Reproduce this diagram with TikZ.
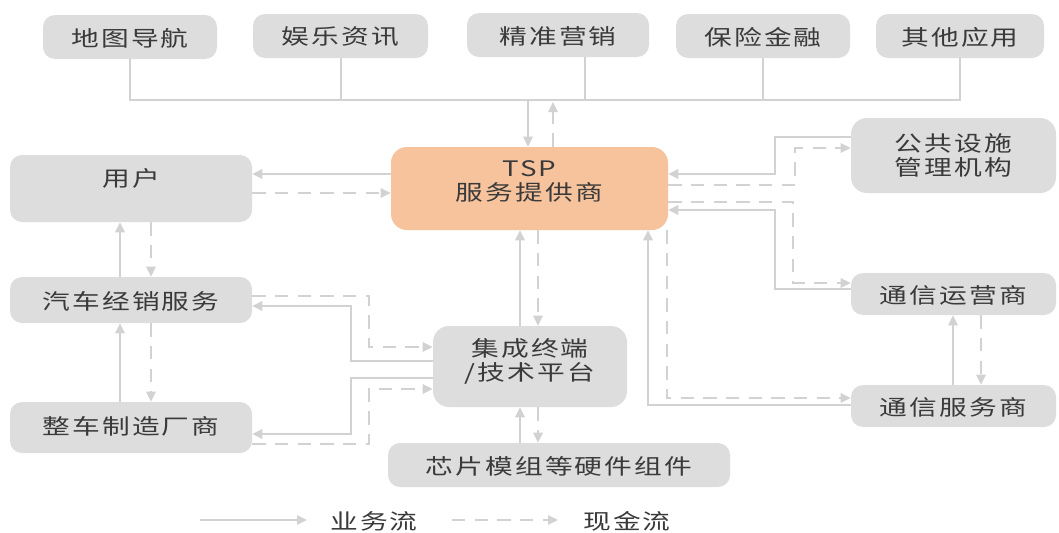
\documentclass[tikz,border=0pt]{standalone}
\usepackage{fontspec}
\newfontfamily\cjk[FakeStretch=1.3,LetterSpace=10]{Noto Sans CJK SC}
\usetikzlibrary{arrows.meta}
\definecolor{boxg}{HTML}{DDDDDD}
\definecolor{lineg}{HTML}{D2D2D2}
\definecolor{tspc}{HTML}{F7C39C}
\definecolor{txt}{HTML}{3A3A3A}
\begin{document}
\begin{tikzpicture}[x=0.75pt,y=-0.75pt,
 box/.style={fill=boxg, rounded corners=9pt, inner sep=0pt, draw=none},
 lbl/.style={font=\cjk\fontsize{16}{18}\selectfont, text=txt, align=center, inner sep=0pt},
 flow/.style={draw=lineg, line width=1.5pt, -{Triangle[length=7.5pt,width=7pt]}},
 cash/.style={flow, dash pattern=on 10pt off 7pt},
 plain/.style={draw=lineg, line width=1.5pt},
]
\useasboundingbox[fill=white] (0,0) rectangle (1059,532);
% top row
\node[box, minimum width=0.75*174pt, minimum height=0.75*44pt] (nav) at (130,37) {};
\node[box, minimum width=0.75*175pt, minimum height=0.75*44pt] (ent) at (340.5,36) {};
\node[box, minimum width=0.75*182pt, minimum height=0.75*44pt] (mkt) at (558,35) {};
\node[box, minimum width=0.75*174pt, minimum height=0.75*44pt] (ins) at (763,36) {};
\node[box, minimum width=0.75*168pt, minimum height=0.75*44pt] (oth) at (960,36) {};
\node[lbl] (navt) at (130,38) {地图导航};
\node[lbl] (entt) at (340.5,37) {娱乐资讯};
\node[lbl] (mktt) at (558,36) {精准营销};
\node[lbl] (inst) at (763,37) {保险金融};
\node[lbl] (otht) at (960,37) {其他应用};
% TSP
\node[box, fill=tspc, rounded corners=12pt, minimum width=0.75*277pt, minimum height=0.75*83pt] (tsp) at (529.5,188.5) {};
\node[lbl] (tspt) at (529.5,181) {TSP\\服务提供商};
% left column
\node[box, minimum width=0.75*242pt, minimum height=0.75*67pt] (user) at (131,188.5) {};
\node[lbl] (usert) at (131,178) {用户};
\node[box, minimum width=0.75*242pt, minimum height=0.75*46pt] (dealer) at (131,300) {};
\node[lbl] (dealert) at (131,301) {汽车经销服务};
\node[box, minimum width=0.75*242pt, minimum height=0.75*51pt] (oem) at (131,427.5) {};
\node[lbl] (oemt) at (131,426) {整车制造厂商};
% middle
\node[box, rounded corners=12pt, minimum width=0.75*194pt, minimum height=0.75*81pt] (integ) at (530,366.5) {};
\node[lbl] (integt) at (530,361.5) {集成终端\\/技术平台};
\node[box, minimum width=0.75*342pt, minimum height=0.75*44pt] (chip) at (559,465) {};
\node[lbl] (chipt) at (559,466) {芯片模组等硬件组件};
% right column
\node[box, rounded corners=12pt, minimum width=0.75*205pt, minimum height=0.75*75pt] (pub) at (953.5,155.5) {};
\node[lbl] (pubt) at (953.5,155) {公共设施\\管理机构};
\node[box, minimum width=0.75*205pt, minimum height=0.75*42pt] (op) at (953.5,294) {};
\node[lbl] (opt) at (953.5,295) {通信运营商};
\node[box, minimum width=0.75*205pt, minimum height=0.75*42pt] (svc) at (953.5,406) {};
\node[lbl] (svct) at (953.5,407) {通信服务商};
% top connectors
\coordinate (hub) at (528,100);
\draw[plain] (nav.south) -- (nav.south |- hub) -- (oth.south |- hub) -- (oth.south);
\draw[plain] (ent.south) -- (ent.south |- hub);
\draw[plain] (mkt.south -| 585,0) -- (585,100);
\draw[plain] (ins.south) -- (ins.south |- hub);
\draw[flow] (hub) -- (tsp.north -| hub);
\coordinate (up) at (553,102);
\draw[cash] (tsp.north -| up) -- (up);
% user
\draw[flow] (tsp.west |- 0,174) -- (user.east |- 0,174);
\draw[cash] (user.east |- 0,193) -- (tsp.west |- 0,193);
\draw[flow] (dealer.north -| 120,0) -- (user.south -| 120,0);
\draw[cash] (user.south -| 151,0) -- (dealer.north -| 151,0);
\draw[flow] (oem.north -| 120,0) -- (dealer.south -| 120,0);
\draw[cash] (dealer.south -| 151,0) -- (oem.north -| 151,0);
% left <-> integration
\draw[cash] (dealer.east |- 0,296) -| (369,347) -- (integ.west |- 0,347);
\draw[flow] (integ.west |- 0,361) -- (351,361) |- (dealer.east |- 0,306);
\draw[flow] (integ.west |- 0,378) -- (351,378) |- (oem.east |- 0,434);
\draw[cash] (oem.east |- 0,444) -| (369,389) -- (integ.west |- 0,389);
% integration <-> TSP, chip
\draw[flow] (integ.north -| 520,0) -- (tsp.south -| 520,0);
\draw[cash] (tsp.south -| 538,0) -- (integ.north -| 538,0);
\draw[flow] (chip.north -| 520,0) -- (integ.south -| 520,0);
\draw[cash] (integ.south -| 538,0) -- (chip.north -| 538,0);
% right side
\draw[flow] (pub.west |- 0,137) -- (775,137) |- (tsp.east |- 0,174);
\draw[cash] (tsp.east |- 0,185) -| (795,148) -- (pub.west |- 0,148);
\draw[cash] (tsp.east |- 0,202) -| (793,283) -- (op.west |- 0,283);
\draw[flow] (op.west |- 0,289) -- (775,289) |- (tsp.east |- 0,210);
\draw[flow] (svc.west |- 0,405) -| (tsp.south -| 648,0);
\draw[cash] (tsp.south -| 667,0) |- (svc.west |- 0,398);
\draw[flow] (svc.north -| 953,0) -- (op.south -| 953,0);
\draw[cash] (op.south -| 981,0) -- (svc.north -| 981,0);
% legend
\coordinate (l1a) at (200,520);
\coordinate (l1b) at (307,520);
\coordinate (l2a) at (452,520);
\coordinate (l2b) at (558,520);
\draw[flow] (l1a) -- (l1b);
\draw[cash] (l2a) -- (l2b);
\node[lbl, anchor=west] (leg1) at (330,521) {业务流};
\node[lbl, anchor=west] (leg2) at (583,521) {现金流};
\end{tikzpicture}
\end{document}
